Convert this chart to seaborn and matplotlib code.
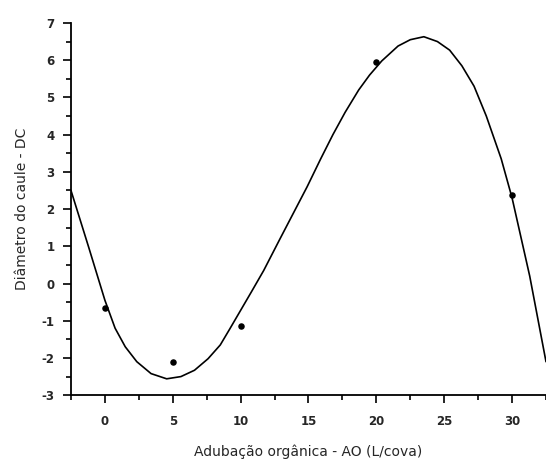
import numpy as np
import pandas as pd
import matplotlib
matplotlib.use("Agg")
import matplotlib.pyplot as plt
import seaborn as sns
from matplotlib.ticker import MultipleLocator

# Observed values (Adubação orgânica vs Diâmetro do caule)
obs_x = [0, 5, 10, 20, 30]
obs_y = [-0.65, -2.10, -1.15, 5.95, 2.39]

# Fitted curve
curve_x = [-2.5, -1.2, 0.0, 0.75, 1.5, 2.35, 3.4, 4.55, 5.6, 6.6, 7.6, 8.5,
           9.2, 10.0, 10.8, 11.7, 12.9, 13.9, 14.9, 15.9, 16.8, 17.7, 18.7, 19.5,
           20.4, 21.6, 22.5, 23.5, 24.5, 25.4, 26.3, 27.2, 28.1, 29.2, 30.0, 31.3, 32.5]
curve_y = [2.5, 0.98, -0.45, -1.2, -1.7, -2.1, -2.42, -2.56, -2.5, -2.33,
           -2.02, -1.65, -1.22, -0.72, -0.22, 0.35, 1.2, 1.9, 2.6, 3.35, 4.0, 4.6,
           5.2, 5.6, 5.98, 6.38, 6.55, 6.63, 6.5, 6.27, 5.85, 5.3, 4.5, 3.35,
           2.3, 0.2, -2.1]

x_ticks = [0, 5, 10, 15, 20, 25, 30]
y_ticks = [-3, -2, -1, 0, 1, 2, 3, 4, 5, 6, 7]

sns.set_style("ticks")
plt.rcParams["axes.unicode_minus"] = False

fig = plt.figure(figsize=(5.46, 4.59), dpi=100)
ax = fig.add_axes([0.130, 0.139, 0.870, 0.811])

curve = pd.DataFrame({"x": curve_x, "y": curve_y})
obs = pd.DataFrame({"x": obs_x, "y": obs_y})

sns.lineplot(data=curve, x="x", y="y", sort=False, color="black", linewidth=1.2, ax=ax)
sns.scatterplot(data=obs, x="x", y="y", color="black", s=22, edgecolor="black",
                linewidth=0, ax=ax, zorder=3)

ax.set_xlim(-2.5, 32.5)
ax.set_ylim(-3, 7)
ax.set_xticks(x_ticks)
ax.set_yticks(y_ticks)
ax.xaxis.set_minor_locator(MultipleLocator(2.5))
ax.yaxis.set_minor_locator(MultipleLocator(0.5))

ax.tick_params(which="major", direction="out", length=6, width=1.2, color="black",
               labelsize=8.5)
ax.tick_params(axis="x", which="major", pad=8)
ax.tick_params(axis="y", which="major", pad=6)
ax.tick_params(which="minor", direction="out", length=3.5, width=1.2, color="black")
for lab in ax.get_xticklabels() + ax.get_yticklabels():
    lab.set_fontweight("bold")

for side in ["top", "right"]:
    ax.spines[side].set_visible(False)
for side in ["left", "bottom"]:
    ax.spines[side].set_linewidth(1.3)
    ax.spines[side].set_color("black")

ax.set_xlabel("Adubação orgânica - AO (L/cova)", fontsize=10, labelpad=12)
ax.set_ylabel("Diâmetro do caule - DC", fontsize=10, labelpad=9)

fig.savefig("out.png", dpi=100)
